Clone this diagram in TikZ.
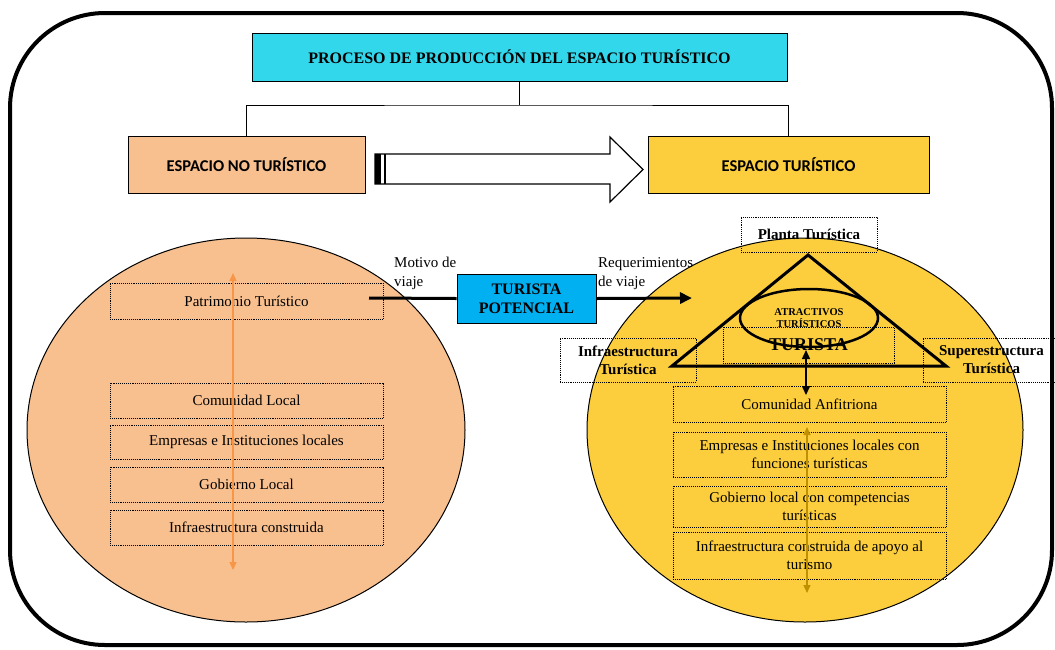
\documentclass[tikz,border=0pt]{standalone}
\usepackage{fontspec}
\setmainfont{Liberation Serif}
\newfontfamily\calfont{Carlito}
\usetikzlibrary{shapes.geometric,arrows.meta}
\definecolor{titlecyan}{RGB}{51,215,235}
\definecolor{peach}{RGB}{248,192,143}
\definecolor{goldfill}{RGB}{252,206,62}
\definecolor{tpblue}{RGB}{0,176,240}
\definecolor{orarrow}{RGB}{247,150,70}
\definecolor{goarrow}{RGB}{191,144,0}
\begin{document}
\begin{tikzpicture}[x=1pt,y=-1pt,
  solidbox/.style={draw=black, line width=0.8pt, inner sep=0pt, align=center},
  dbox/.style={draw=black, densely dotted, line width=0.9pt, inner sep=0pt, align=center, font=\fontsize{15}{18}\selectfont},
  bdbox/.style={dbox, font=\bfseries\fontsize{15}{18}\selectfont},
  lbl/.style={inner sep=0pt, align=left, font=\fontsize{15}{19}\selectfont},
  capsans/.style={font=\calfont\bfseries\fontsize{16.5}{18}\selectfont},
  conn/.style={draw=black, line width=0.8pt},
  oval/.style={ellipse, draw=black, line width=1pt, inner sep=0pt}]
\useasboundingbox (0,0) rectangle (1055,649);
% outer frame
\draw[line width=4pt, rounded corners=95pt] (10,13) rectangle (1052,645);

% title and top boxes
\node[solidbox, fill=titlecyan, minimum width=535pt, minimum height=48pt,
      font=\bfseries\fontsize{16}{18}\selectfont] (title) at (519.5,57)
      {PROCESO DE PRODUCCIÓN DEL ESPACIO TURÍSTICO};
\node[solidbox, fill=peach, minimum width=237pt, minimum height=57pt, capsans] (nt) at (246.5,164.5) {ESPACIO NO TURÍSTICO};
\node[solidbox, fill=goldfill, minimum width=281pt, minimum height=57pt, capsans] (t) at (788.5,164.5) {ESPACIO TURÍSTICO};
\coordinate (split) at (519.5,105);
\draw[conn] (title.south) -- (split);
\draw[conn] (nt.north) |- (split) -| (t.north);

% block arrow
\draw[line width=1.2pt, fill=white, line join=miter]
  (375,154) -- (610,154) -- (610,137) -- (643,169.5) -- (610,202) -- (610,184) -- (375,184) -- cycle;
\fill[black] (375,154) rectangle (381,184);
\draw[line width=2pt] (385,154) -- (385,184);

% ellipses
\node[oval, fill=peach, minimum width=438pt, minimum height=384pt] (le) at (246,430) {};
\node[oval, fill=goldfill, minimum width=436pt, minimum height=384pt] (re) at (805,430) {};

% left boxes
\node[dbox, minimum width=273pt, minimum height=36pt] (patr) at (246.5,301) {Patrimonio Turístico};
\node[dbox, minimum width=273pt, minimum height=35pt] (cl) at (246.5,400.5) {Comunidad Local};
\node[dbox, minimum width=273pt, minimum height=34pt] (emp) at (246.5,442) {Empresas e Instituciones locales};
\node[dbox, minimum width=273pt, minimum height=35pt] (gob) at (246.5,484.5) {Gobierno Local};
\node[dbox, minimum width=273pt, minimum height=35pt] (inf) at (246.5,527.5) {Infraestructura construida};
\coordinate (oa1) at (233,273);
\coordinate (oa2) at (233,570);
\draw[orarrow, line width=1.3pt, {Triangle[length=8pt,width=7pt]}-{Triangle[length=8pt,width=7pt]}] (oa1) -- (oa2);

% right boxes
\node[dbox, minimum width=273pt, minimum height=36pt] (ca) at (809.5,404) {Comunidad Anfitriona};
\node[dbox, minimum width=273pt, minimum height=45pt] (emp2) at (809.5,454.5) {Empresas e Instituciones locales con\\funciones turísticas};
\node[dbox, minimum width=273pt, minimum height=41pt] (gob2) at (809.5,506.5) {Gobierno local con competencias\\turísticas};
\node[dbox, minimum width=273pt, minimum height=47pt] (inf2) at (809.5,555.5) {Infraestructura construida de apoyo al\\turismo};
\coordinate (ga1) at (807,427);
\coordinate (ga2) at (807,593);
\draw[goarrow, line width=1.3pt, {Triangle[length=8pt,width=7pt]}-{Triangle[length=8pt,width=7pt]}] (ga1) -- (ga2);

% top right cluster
\node[bdbox, minimum width=136pt, minimum height=35pt] (planta) at (809,234.5) {Planta Turística};
\node[bdbox, minimum width=136pt, minimum height=44pt] (infra) at (628,360) {Infraestructura\\Turística};
\node[bdbox, minimum width=137pt, minimum height=44pt] (super) at (991.5,360) {Superestructura\\Turística};
\node[dbox, minimum width=171pt, minimum height=36pt, font=\bfseries\fontsize{18}{20}\selectfont] (tur) at (808.5,345) {TURISTA};
\node[oval, line width=2.5pt, minimum width=138pt, minimum height=58pt,
      align=center, font=\bfseries\fontsize{10.5}{12}\selectfont] (atr) at (809,318) {ATRACTIVOS\\TURÍSTICOS};
\draw[line width=3pt, line join=miter] (808,255) -- (672,366) -- (946,366) -- cycle;
\coordinate (ta) at (806,350);
\coordinate (cb) at (806,395);
\draw[line width=1.5pt, {Triangle[length=9pt,width=8pt]}-{Triangle[length=9pt,width=8pt]}] (ta) -- (cb);

% turista potencial
\node[solidbox, fill=tpblue, minimum width=139pt, minimum height=49pt,
      font=\bfseries\fontsize{16}{19}\selectfont] (tp) at (526.5,298.5) {TURISTA\\POTENCIAL};
\coordinate (mv) at (369,298);
\coordinate (rq) at (692,298);
\draw[line width=3pt] (mv) -- (tp.west);
\draw[line width=3pt, -{Triangle[length=12pt,width=11pt]}] (tp.east) -- (rq);
\node[lbl, anchor=north west] (motivo) at (394,257) {Motivo de\\viaje};
\node[lbl, anchor=north west] (reque) at (598,257) {Requerimientos\\de viaje};
\end{tikzpicture}
\end{document}
